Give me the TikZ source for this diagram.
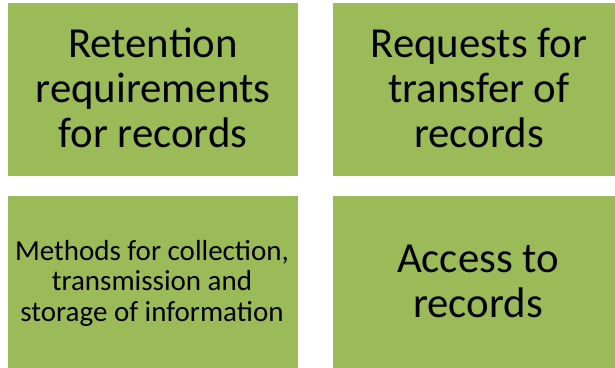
\documentclass[tikz,border=0pt]{standalone}
\usepackage{fontspec}
\setmainfont{Carlito}
\definecolor{boxgreen}{HTML}{9BBB59}
\tikzset{
  gbox/.style={fill=boxgreen, draw=none},
  bigtxt/.style={align=center, font=\fontsize{42.8}{45}\selectfont, text=black, inner sep=0pt},
  smalltxt/.style={align=center, font=\fontsize{29}{30.5}\selectfont, text=black, inner sep=0pt}
}
\begin{document}
\begin{tikzpicture}[x=1pt,y=-1pt]
\useasboundingbox (0,0) rectangle (615,367);
\clip (0,0) rectangle (615,367);
\fill[gbox] (8,3) rectangle (298,176);
\fill[gbox] (333,3) rectangle (625,176);
\fill[gbox] (8,196) rectangle (298,370);
\fill[gbox] (333,196) rectangle (625,370);
\node[bigtxt] (a) at (153,88) {Retention\\requirements\\for records};
\node[bigtxt] (b) at (479,88) {Requests for\\transfer of\\records};
\node[smalltxt] (c) at (152,283) {Methods for collection,\\transmission and\\storage of information};
\node[bigtxt] (d) at (478,281) {Access to\\records};
\end{tikzpicture}
\end{document}
